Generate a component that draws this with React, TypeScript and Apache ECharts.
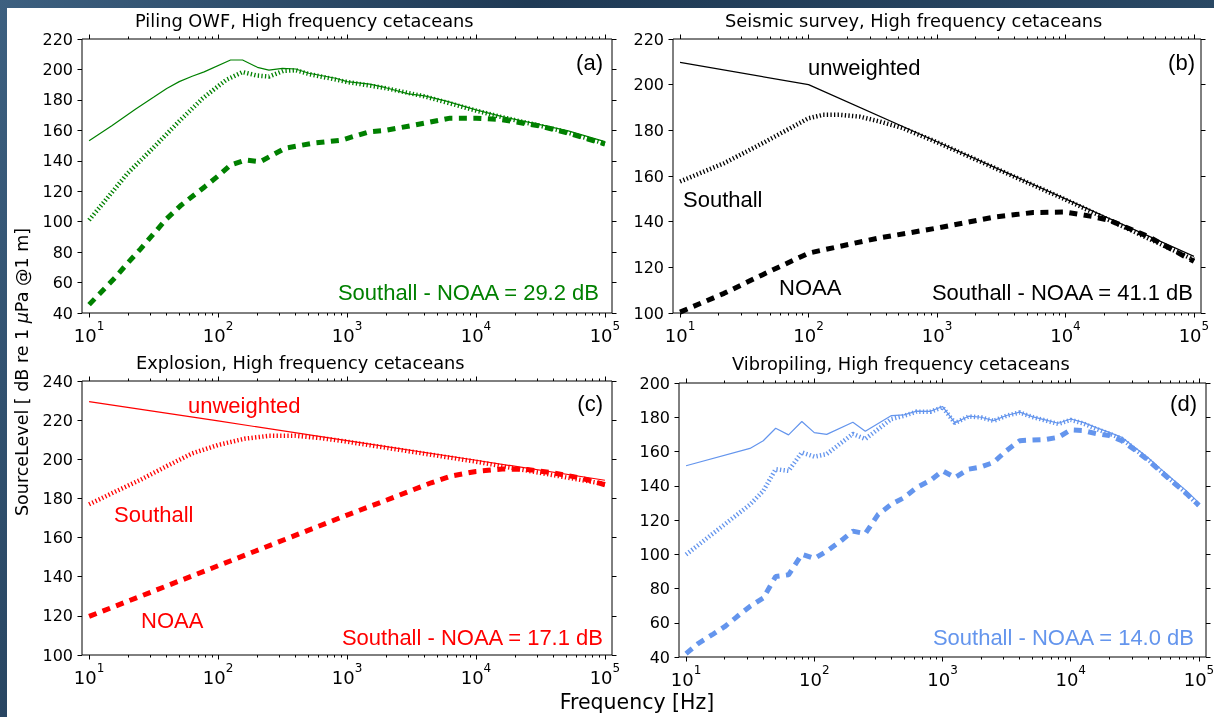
import React, { useEffect, useRef } from 'react';
import * as echarts from 'echarts';

const W = 1214;
const H = 717;

// ---------- Panel (a): Piling OWF ----------
const aUnwF = [10, 15, 23, 32, 40, 50, 63, 78, 125, 155, 202, 248, 316, 400, 507, 815, 1000, 1500, 2000, 3000, 4000, 6000, 10000, 16000, 32000, 52000, 100000];
const aUnwV = [153.2, 163, 174, 182, 187.5, 192, 195.5, 198.4, 206.2, 206.2, 201.4, 199.6, 200.7, 200.3, 197.5, 194.2, 192, 190.3, 188, 184, 182.6, 179, 173.4, 169, 163.6, 159.6, 152.6];
const aSouF = [10, 20, 31, 50, 76, 115, 155, 200, 248, 320, 400, 507, 1000, 2000, 4000, 10000, 16000, 31500, 50000, 100000];
const aSouV = [101, 132, 148, 166, 181, 193, 198.3, 196, 195.3, 199, 199.5, 197, 191.8, 187.7, 182.3, 173, 168.6, 163, 158.8, 151.3];
const aNoaF = [10, 16, 20, 25, 32, 40, 52, 63, 79, 100, 125, 163, 213, 330, 540, 910, 1480, 2000, 4000, 6300, 10000, 16000, 31500, 50000, 100000];
const aNoaV = [45.5, 63.5, 73, 82, 92.5, 102, 111, 116.5, 123, 130, 137.2, 140.5, 139.4, 148.2, 151.5, 153.6, 159, 160, 164.7, 168, 168, 167, 162.8, 158.5, 151];

// ---------- Panel (b): Seismic survey ----------
const bUnwF = [10, 100, 1000, 10000, 100000];
const bUnwV = [209.8, 200, 175, 150, 124.8];
const bSouF = [10, 22, 44, 100, 130, 175, 250, 350, 540, 1000, 10000, 100000];
const bSouV = [157.6, 165.6, 174.4, 185.3, 186.8, 186.8, 186, 184, 181, 174.8, 149.7, 123.3];
const bNoaF = [10, 22, 44, 100, 175, 350, 1000, 2800, 5600, 10000, 16000, 22000, 44000, 100000];
const bNoaV = [100.4, 108.6, 116.8, 126.2, 129.2, 132.8, 137.2, 142, 144, 144.2, 142.3, 140.6, 133.5, 122.6];

// ---------- Panel (c): Explosion ----------
const cUnwF = [10, 100, 1000, 10000, 100000];
const cUnwV = [229.5, 219.6, 209.5, 199.5, 189.3];
const cSouF = [10, 16, 25, 40, 63, 100, 160, 250, 400, 630, 1000, 10000, 100000];
const cSouV = [177, 183.5, 189.5, 196.5, 203, 207.3, 210.5, 212, 212, 210.8, 209, 198.8, 187.3];
const cNoaF = [10, 100, 1000, 2000, 3000, 4500, 6500, 10000, 16000, 25000, 40000, 64000, 100000];
const cNoaV = [119.7, 145.6, 171.5, 179, 183.5, 188, 191.5, 193.8, 195, 194.8, 193, 190.5, 187];

// ---------- Panel (d): Vibropiling ----------
const dUnwF = [10, 31.5, 40, 50, 63, 80, 100, 125, 200, 250, 400, 500, 630, 800, 1000, 1250, 1600, 2000, 2500, 3150, 4000, 5000, 6300, 8000, 10000, 12500, 16000, 20000, 25000, 31500, 40000, 50000, 63000, 80000, 100000];
const dUnwV = [151.7, 161.8, 166.3, 173.6, 169.7, 177.5, 171, 170, 177.1, 171.8, 181, 181.4, 183.6, 183.4, 186.3, 176.7, 180.6, 180, 178, 181, 183, 180.4, 178.5, 176.5, 179, 177, 173.8, 171.2, 168.3, 162.5, 156.5, 150, 143.5, 137, 130];
const dSouF = dUnwF;
const dSouV = [99.8, 129, 137, 149.7, 148.7, 159.5, 157, 158.5, 170.3, 167.3, 179, 180.8, 183.3, 183.2, 185.9, 176.6, 180.5, 179.9, 177.9, 180.9, 182.8, 180.2, 178.2, 176.1, 178.5, 176.4, 173.1, 170.4, 167.4, 161.5, 155.4, 148.8, 142.2, 135.5, 128.3];
const dNoaF = [10, 12.5, 16, 20, 25, 31.5, 40, 50, 63, 80, 100, 125, 160, 200, 250, 315, 400, 500, 630, 800, 1000, 1250, 1600, 2000, 2500, 3150, 4000, 5000, 6300, 8000, 10000, 12500, 16000, 20000, 25000, 31500, 40000, 50000, 63000, 80000, 100000];
const dNoaV = [42, 48, 53, 57.7, 63.6, 69.5, 74.4, 87, 88, 100, 97.5, 101.8, 107.6, 113.5, 112, 123.3, 129.2, 133, 139, 143, 148.7, 144.8, 149.7, 151, 153.6, 160.5, 166.3, 166.7, 167, 168.3, 172.6, 172.2, 170.3, 169.3, 166.3, 161, 155, 148.5, 142, 135.3, 128.5];

// ---------- Text ----------
const titles = [
  'Piling OWF, High frequency cetaceans',
  'Seismic survey, High frequency cetaceans',
  'Explosion, High frequency cetaceans',
  'Vibropiling, High frequency cetaceans',
];
const panelTags = ['(a)', '(b)', '(c)', '(d)'];
const diffTexts = [
  'Southall - NOAA = 29.2 dB',
  'Southall - NOAA = 41.1 dB',
  'Southall - NOAA = 17.1 dB',
  'Southall - NOAA = 14.0 dB',
];
const yRanges = [
  [40, 220],
  [100, 220],
  [100, 240],
  [40, 200],
];
const xTickExponents = [1, 2, 3, 4, 5];
const X_LABEL = 'Frequency [Hz]';

const XMIN = 0.945;
const XMAX = 5.055;

const MINOR: number[] = [];
for (let k = 1; k < 5; k++) for (let m = 2; m < 10; m++) MINOR.push(k + Math.log10(m));

const toXY = (f: number[], v: number[]) => f.map((x, i) => [Math.log10(x), v[i]]);

const PANELS = [
  { box: { left: 82, top: 39, width: 530, height: 274 }, color: '#008000', unw: toXY(aUnwF, aUnwV), sou: toXY(aSouF, aSouV), noa: toXY(aNoaF, aNoaV) },
  { box: { left: 673, top: 39, width: 528, height: 274 }, color: '#000000', unw: toXY(bUnwF, bUnwV), sou: toXY(bSouF, bSouV), noa: toXY(bNoaF, bNoaV) },
  { box: { left: 82, top: 381, width: 530, height: 274 }, color: '#ff0000', unw: toXY(cUnwF, cUnwV), sou: toXY(cSouF, cSouV), noa: toXY(cNoaF, cNoaV) },
  { box: { left: 679, top: 383, width: 527, height: 274 }, color: '#6495ed', unw: toXY(dUnwF, dUnwV), sou: toXY(dSouF, dSouV), noa: toXY(dNoaF, dNoaV) },
];

const DJ = 'DejaVu Sans';
const LS = 'Liberation Sans';

function xAx(gi: number, pos: string, major: boolean, labels: boolean) {
  return {
    type: 'value',
    gridIndex: gi,
    position: pos,
    min: XMIN,
    max: XMAX,
    axisLine: { show: false },
    splitLine: { show: false },
    axisTick: {
      show: true,
      inside: false,
      length: major ? 4.5 : 2.5,
      customValues: major ? xTickExponents : MINOR,
      lineStyle: { color: '#000', width: 1 },
    },
    axisLabel: labels
      ? {
          show: true,
          customValues: xTickExponents,
          margin: 7,
          formatter: (v: number) => `{b|10}{s|${Math.round(v)}}`,
          rich: {
            b: { fontSize: 18, fontFamily: DJ, color: '#000', verticalAlign: 'bottom', lineHeight: 24 },
            s: { fontSize: 12, fontFamily: DJ, color: '#000', verticalAlign: 'top', lineHeight: 14 },
          },
        }
      : { show: false },
  };
}

function yAx(gi: number, pos: string, min: number, max: number, labels: boolean) {
  return {
    type: 'value',
    gridIndex: gi,
    position: pos,
    min,
    max,
    interval: 20,
    axisLine: { show: false },
    splitLine: { show: false },
    axisTick: { show: true, inside: false, length: 4.5, lineStyle: { color: '#000', width: 1 } },
    axisLabel: labels
      ? { show: true, margin: 9, fontSize: 16, fontFamily: DJ, color: '#000' }
      : { show: false },
  };
}

function txt(text: string, x: number, y: number, opts: any) {
  return {
    type: 'text',
    x,
    y,
    silent: true,
    z: 50,
    style: {
      text,
      fill: opts.fill || '#000',
      fontSize: opts.size || 22,
      fontFamily: opts.family || LS,
      align: opts.align || 'left',
      textAlign: opts.align || 'left',
      verticalAlign: 'middle',
      textVerticalAlign: 'middle',
    },
  };
}

function buildOption() {
  const grid: any[] = [];
  const xAxis: any[] = [];
  const yAxis: any[] = [];
  const series: any[] = [];
  PANELS.forEach((p, i) => {
    grid.push({ ...p.box, show: true, borderColor: '#000', borderWidth: 1, backgroundColor: 'transparent', containLabel: false, outerBoundsMode: 'none' });
    const xi = xAxis.length;
    xAxis.push(xAx(i, 'bottom', true, true));
    xAxis.push(xAx(i, 'bottom', false, false));
    xAxis.push(xAx(i, 'top', true, false));
    xAxis.push(xAx(i, 'top', false, false));
    const yi = yAxis.length;
    yAxis.push(yAx(i, 'left', yRanges[i][0], yRanges[i][1], true));
    yAxis.push(yAx(i, 'right', yRanges[i][0], yRanges[i][1], false));
    const common = { type: 'line', xAxisIndex: xi, yAxisIndex: yi, symbol: 'none', silent: true, smooth: false };
    series.push({ ...common, name: `unw${i}`, data: p.unw, z: 4, lineStyle: { color: p.color, width: 1.2, type: 'solid' } });
    series.push({ ...common, name: `sou${i}`, data: p.sou, z: 3, lineStyle: { color: p.color, width: 4.5, type: [1.3, 2.3], cap: 'butt' } });
    series.push({ ...common, name: `noa${i}`, data: p.noa, z: 2, lineStyle: { color: p.color, width: 5, type: [8, 6.5], cap: 'butt' } });
  });

  const graphic: any[] = [
    {
      type: 'rect',
      z: -100,
      silent: true,
      shape: { x: 0, y: 0, width: W, height: H },
      style: {
        fill: new echarts.graphic.LinearGradient(0, 0, 1, 0.3, [
          { offset: 0, color: '#3d6080' },
          { offset: 0.4, color: '#1f3a55' },
          { offset: 1, color: '#2b4a66' },
        ]),
      },
    },
    { type: 'rect', z: -99, silent: true, shape: { x: 7, y: 8, width: W - 7, height: H - 8 }, style: { fill: '#ffffff' } },
  ];

  const titleX = [135, 725, 136, 732];
  const titleY = [20, 20, 362, 363];
  titles.forEach((t, i) => graphic.push(txt(t, titleX[i], titleY[i], { size: 17.8, family: DJ, align: 'left' })));

  const tagX = [603, 1195, 603, 1197];
  const tagY = [62, 62, 403, 403];
  panelTags.forEach((t, i) => graphic.push(txt(t, tagX[i], tagY[i], { align: 'right' })));

  const diffX = [599, 1193, 603, 1194];
  const diffY = [292, 292, 637, 637];
  diffTexts.forEach((t, i) => graphic.push(txt(t, diffX[i], diffY[i], { align: 'right', fill: PANELS[i].color })));

  graphic.push(txt('unweighted', 808, 67, {}));
  graphic.push(txt('Southall', 683, 199, {}));
  graphic.push(txt('NOAA', 779, 287, {}));
  graphic.push(txt('unweighted', 188, 405, { fill: '#ff0000' }));
  graphic.push(txt('Southall', 114, 514, { fill: '#ff0000' }));
  graphic.push(txt('NOAA', 141, 620, { fill: '#ff0000' }));

  graphic.push(txt(X_LABEL, 637, 702, { size: 20.5, family: DJ, align: 'center' }));

  graphic.push({
    type: 'text',
    x: 22,
    y: 372,
    rotation: Math.PI / 2,
    silent: true,
    z: 50,
    style: {
      text: '{n|SourceLevel [ dB re 1 }{i|μ}{n|Pa @1 m]}',
      align: 'center',
      textAlign: 'center',
      verticalAlign: 'middle',
      textVerticalAlign: 'middle',
      rich: {
        n: { fontSize: 17.5, fontFamily: DJ, fill: '#000', color: '#000' },
        i: { fontSize: 17.5, fontFamily: DJ, fontStyle: 'italic', fill: '#000', color: '#000' },
      },
    },
  });

  return {
    animation: false,
    backgroundColor: 'transparent',
    grid,
    xAxis,
    yAxis,
    series,
    graphic,
  };
}

export default function App() {
  const ref = useRef<HTMLDivElement>(null);
  useEffect(() => {
    if (!ref.current) return;
    const chart = echarts.init(ref.current, null, { renderer: 'svg', width: W, height: H });
    chart.setOption(buildOption() as any);
    return () => chart.dispose();
  }, []);
  return <div ref={ref} style={{ position: 'fixed', left: 0, top: 0, width: W, height: H }} />;
}
